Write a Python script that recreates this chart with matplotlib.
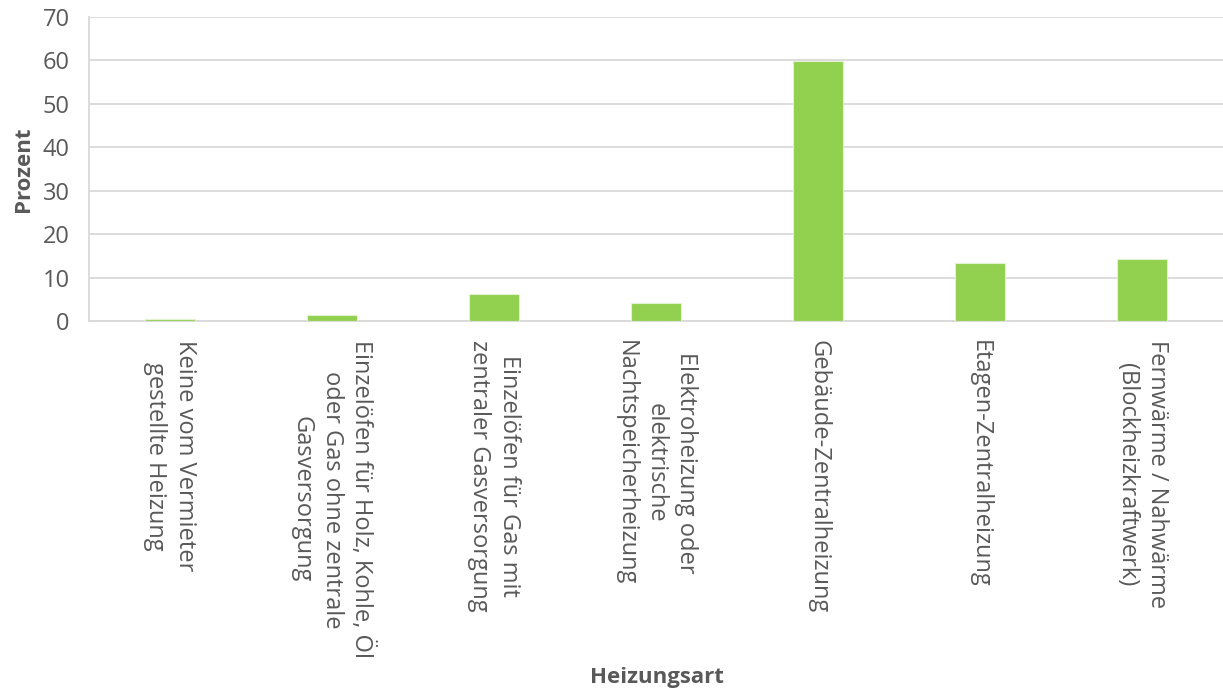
import matplotlib
matplotlib.use('Agg')
import matplotlib.pyplot as plt

# Heating types and their share in percent
categories = [
    "Keine vom Vermieter\ngestellte Heizung",
    "Einzelöfen für Holz, Kohle, Öl\noder Gas ohne zentrale\nGasversorgung",
    "Einzelöfen für Gas mit\nzentraler Gasversorgung",
    "Elektroheizung oder\nelektrische\nNachtspeicherheizung",
    "Gebäude-Zentralheizung",
    "Etagen-Zentralheizung",
    "Fernwärme / Nahwärme\n(Blockheizkraftwerk)",
]
values = [0.5, 1.4, 6.2, 4.1, 59.9, 13.4, 14.3]
yticks = [0, 10, 20, 30, 40, 50, 60, 70]

TEXT = '#595959'
GRID = '#d9d9d9'
BAR = '#92d050'
FS = 17

plt.rcParams['font.family'] = ['Open Sans', 'DejaVu Sans']

fig = plt.figure(figsize=(12.23, 6.93), dpi=100)
ax = fig.add_axes([89 / 1223, 1 - 321 / 693, 1 - 89 / 1223, (321 - 17) / 693])

x = range(len(categories))
ax.bar(x, values, width=0.31, color=BAR, edgecolor='#e2f3cf', linewidth=0.8, zorder=3)

ax.set_xlim(-0.5, len(categories) - 0.5)
ax.set_ylim(0, 70)
ax.set_yticks(yticks)
ax.set_yticklabels([str(t) for t in yticks], fontsize=FS, color=TEXT)
ax.yaxis.grid(True, color=GRID, linewidth=1.3, zorder=0)
ax.tick_params(axis='y', length=0, pad=14)

ax.set_xticks(list(x))
ax.set_xticklabels(categories, rotation=270, fontsize=FS, color=TEXT,
                   va='top', ha='center', multialignment='center',
                   linespacing=1.33)
ax.tick_params(axis='x', length=0, pad=14)

for side in ['top', 'right']:
    ax.spines[side].set_visible(False)
for side in ['left', 'bottom']:
    ax.spines[side].set_color(GRID)
    ax.spines[side].set_linewidth(1.3)

ax.set_ylabel('Prozent', fontsize=16, fontweight='bold', color=TEXT, labelpad=6)
fig.text(0.537, 0.022, 'Heizungsart', fontsize=16, fontweight='bold',
         color=TEXT, ha='center', va='center')

fig.savefig('out.png', dpi=100)
